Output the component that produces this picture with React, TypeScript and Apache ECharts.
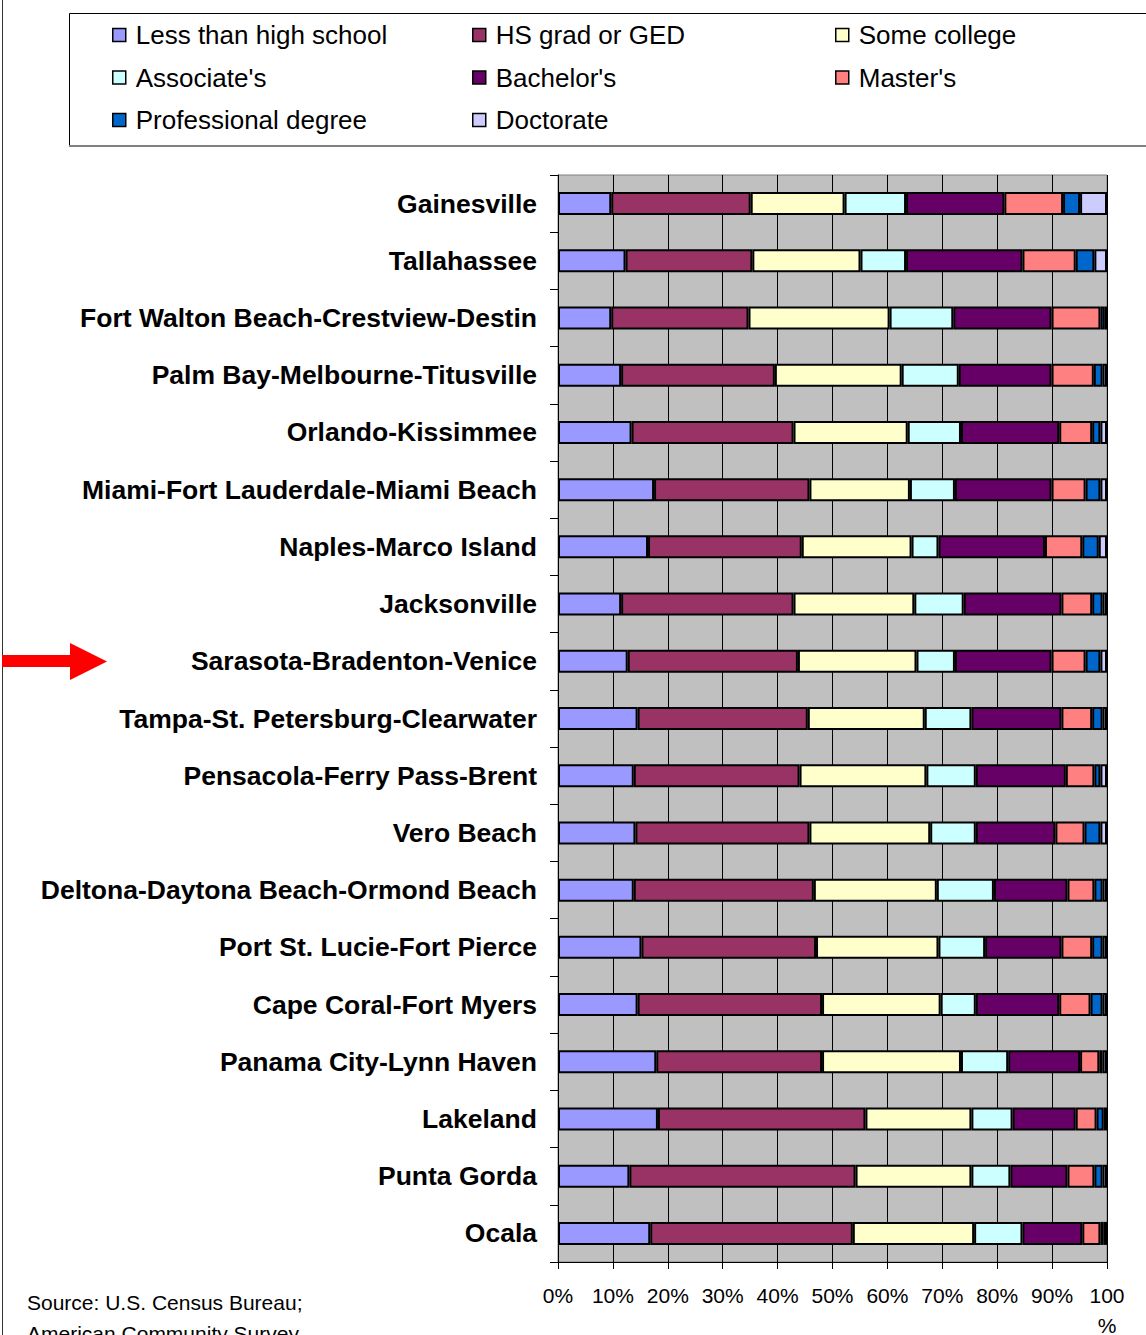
import React, { useEffect, useRef } from "react";
import * as echarts from "echarts";

const categories = [
  "Gainesville",
  "Tallahassee",
  "Fort Walton Beach-Crestview-Destin",
  "Palm Bay-Melbourne-Titusville",
  "Orlando-Kissimmee",
  "Miami-Fort Lauderdale-Miami Beach",
  "Naples-Marco Island",
  "Jacksonville",
  "Sarasota-Bradenton-Venice",
  "Tampa-St. Petersburg-Clearwater",
  "Pensacola-Ferry Pass-Brent",
  "Vero Beach",
  "Deltona-Daytona Beach-Ormond Beach",
  "Port St. Lucie-Fort Pierce",
  "Cape Coral-Fort Myers",
  "Panama City-Lynn Haven",
  "Lakeland",
  "Punta Gorda",
  "Ocala",
];

const seriesNames = [
  "Less than high school",
  "HS grad or GED",
  "Some college",
  "Associate's",
  "Bachelor's",
  "Master's",
  "Professional degree",
  "Doctorate",
];

const lessThanHighSchool = [9.7, 12.3, 9.7, 11.5, 13.4, 17.5, 16.4, 11.5, 12.7, 14.5, 13.8, 14.1, 13.8, 15.2, 14.5, 17.9, 18.2, 13.0, 16.8];
const hsGradOrGed = [25.4, 23.1, 25.0, 28.0, 29.5, 28.3, 28.0, 31.4, 31.0, 31.0, 30.2, 31.7, 32.8, 31.8, 33.6, 30.2, 37.8, 41.2, 36.9];
const someCollege = [17.1, 19.7, 25.7, 23.1, 20.8, 18.3, 20.0, 22.0, 21.6, 21.3, 23.1, 22.0, 22.4, 22.3, 21.6, 25.3, 19.3, 21.1, 22.1];
const associates = [11.2, 8.3, 11.6, 10.4, 9.7, 8.2, 4.9, 9.0, 7.0, 8.5, 9.0, 8.3, 10.4, 8.5, 6.4, 8.6, 7.5, 7.1, 8.8];
const bachelors = [17.9, 21.2, 17.9, 16.9, 17.9, 17.6, 19.4, 17.8, 17.6, 16.4, 16.4, 14.5, 13.4, 13.9, 15.2, 13.1, 11.5, 10.4, 10.9];
const masters = [10.7, 9.7, 8.9, 7.7, 6.0, 6.2, 6.8, 5.6, 6.2, 5.6, 5.2, 5.3, 4.9, 5.6, 5.7, 3.5, 3.8, 4.9, 3.3];
const professional = [3.1, 3.4, 0.8, 1.6, 1.5, 2.7, 3.0, 1.9, 2.7, 1.9, 1.1, 2.9, 1.5, 1.9, 2.2, 0.6, 1.3, 1.5, 0.6];
const doctorate = [4.9, 2.3, 0.4, 0.8, 1.2, 1.2, 1.5, 0.8, 1.2, 0.8, 1.2, 1.2, 0.8, 0.8, 0.8, 0.8, 0.6, 0.8, 0.6];

const seriesValues = [lessThanHighSchool, hsGradOrGed, someCollege, associates, bachelors, masters, professional, doctorate];

const colors = ["#9999FF", "#993366", "#FFFFCC", "#CCFFFF", "#660066", "#FF8080", "#0066CC", "#CCCCFF"];

const FONT = "'Liberation Sans', Arial, sans-serif";

export default function App() {
  const ref = useRef<HTMLDivElement>(null);

  useEffect(() => {
    if (!ref.current) return;
    const chart = echarts.init(ref.current, null, { renderer: "svg" });

    const legendCommon = {
      orient: "vertical",
      top: 20,
      padding: 0,
      itemGap: 12.5,
      itemWidth: 13,
      itemHeight: 13,
      icon: "rect",
      selectedMode: false,
      itemStyle: { borderColor: "#000", borderWidth: 1.5 },
      textStyle: { fontSize: 26, color: "#000", fontFamily: FONT, lineHeight: 30, padding: [0, 0, 0, 5] },
    };

    chart.setOption({
      animation: false,
      backgroundColor: "#ffffff",
      textStyle: { fontFamily: FONT },
      grid: {
        left: 558,
        top: 175,
        width: 549,
        height: 1087,
        show: true,
        containLabel: false,
        outerBoundsMode: "none",
        backgroundColor: "#C0C0C0",
        borderColor: "#808080",
        borderWidth: 1,
      },
      legend: [
        { ...legendCommon, left: 112, data: [seriesNames[0], seriesNames[3], seriesNames[6]] },
        { ...legendCommon, left: 472, data: [seriesNames[1], seriesNames[4], seriesNames[7]] },
        { ...legendCommon, left: 835, data: [seriesNames[2], seriesNames[5]] },
      ],
      xAxis: {
        type: "value",
        min: 0,
        max: 100,
        interval: 10,
        axisLine: { show: true, lineStyle: { color: "#000", width: 1 } },
        axisTick: { show: true, length: 7, lineStyle: { color: "#000" } },
        splitLine: { show: true, lineStyle: { color: "#000", width: 1 } },
        axisLabel: {
          formatter: (v: number) => (v === 100 ? "100\n%" : v + "%"),
          fontSize: 21,
          color: "#000",
          margin: 18,
          lineHeight: 30,
          fontFamily: FONT,
        },
      },
      yAxis: {
        type: "category",
        data: categories,
        inverse: true,
        axisLine: { show: true, lineStyle: { color: "#000", width: 1 } },
        axisTick: { show: true, length: 8, lineStyle: { color: "#000" } },
        axisLabel: {
          fontSize: 26.5,
          fontWeight: "bold",
          color: "#000",
          margin: 21,
          fontFamily: FONT,
        },
      },
      series: seriesNames.map((name, i) => ({
        name,
        type: "bar",
        stack: "total",
        data: seriesValues[i],
        barWidth: 23,
        itemStyle: { color: colors[i], borderColor: "#000", borderWidth: 2 },
        emphasis: { disabled: true },
      })),
      graphic: [
        {
          type: "line",
          shape: { x1: 2.5, y1: 0, x2: 2.5, y2: 1335 },
          style: { stroke: "#333", lineWidth: 1 },
        },
        {
          type: "polyline",
          shape: { points: [[1146, 13.5], [69.5, 13.5], [69.5, 146]] },
          style: { stroke: "#000", lineWidth: 1, fill: null },
        },
        {
          type: "line",
          shape: { x1: 69, y1: 146, x2: 1146, y2: 146 },
          style: { stroke: "#808080", lineWidth: 2 },
        },
        {
          type: "polygon",
          shape: {
            points: [[2, 655], [70, 655], [70, 643], [107, 661.5], [70, 680], [70, 667], [2, 667]],
          },
          style: { fill: "#FF0000" },
        },
        {
          type: "text",
          x: 27,
          y: 1287,
          style: {
            text: "Source: U.S. Census Bureau;\nAmerican Community Survey",
            fontSize: 21,
            lineHeight: 31,
            fill: "#000",
            fontFamily: FONT,
            verticalAlign: "top",
            align: "left",
          },
        },
      ],
    });

    return () => chart.dispose();
  }, []);

  return (
    <div
      ref={ref}
      style={{ position: "absolute", left: 0, top: 0, width: 1146, height: 1335 }}
    />
  );
}
